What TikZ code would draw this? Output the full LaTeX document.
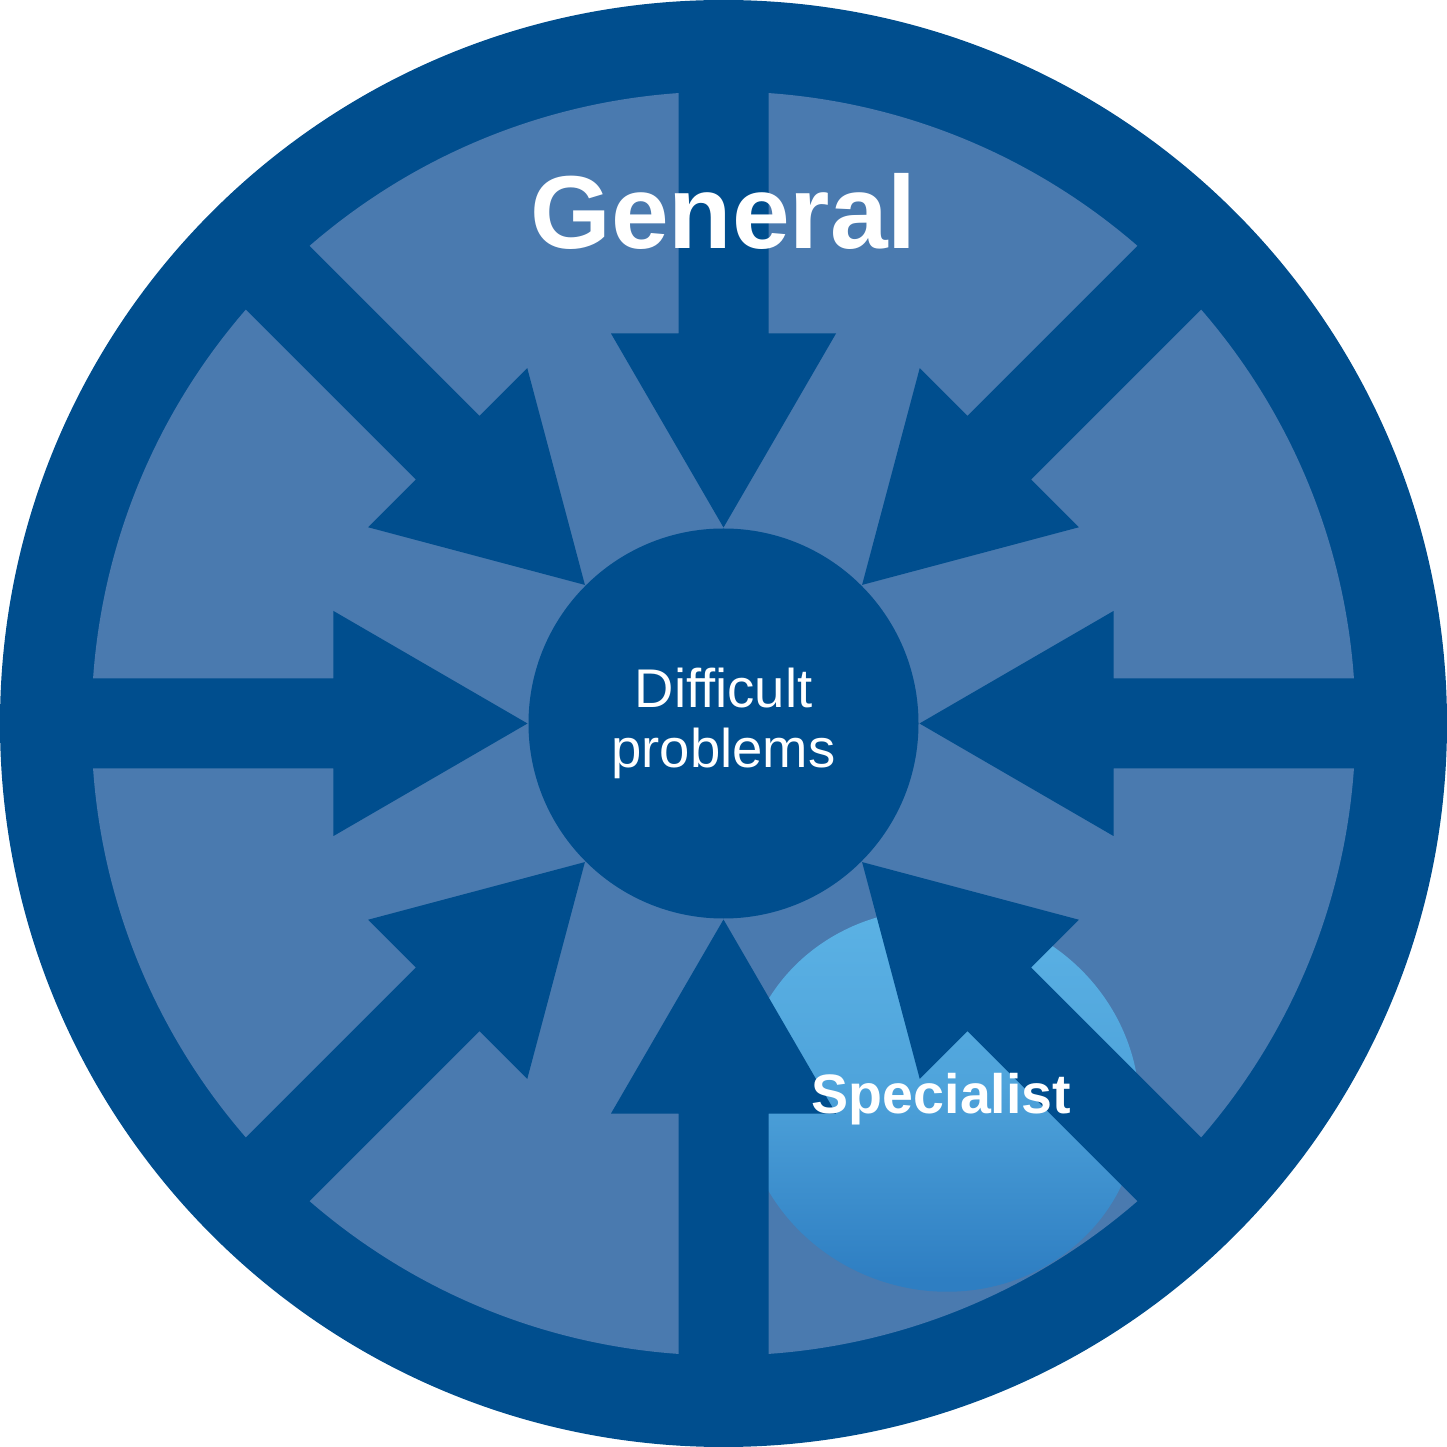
\documentclass[tikz,border=0pt]{standalone}
\usepackage{fontspec}
\setmainfont{Liberation Sans}
\usepackage{xcolor}
\usetikzlibrary{shapes,calc,positioning}

\definecolor{ringblue}{HTML}{004E8E}
\definecolor{fieldblue}{HTML}{4A7AAF}
\definecolor{spectop}{HTML}{5DB4E6}
\definecolor{specbot}{HTML}{2E7EC2}

\begin{document}
\begin{tikzpicture}
	\tikzstyle{every node}=[text=white, inner sep=0pt]
	\tikzstyle{ringfill}=[fill=ringblue]
	\tikzstyle{bigword}=[font=\bfseries\fontsize{29.5}{32}\selectfont]
	\tikzstyle{smallword}=[font=\bfseries\fontsize{15.8}{18}\selectfont]
	\useasboundingbox (-7.235,-7.235) rectangle (7.235,7.235);
	% rings
	\fill [ringfill] (0,0) circle (7.235);
	\fill [fill=fieldblue] (0,0) circle (6.32);
	% specialist area
	\shade [top color=spectop, bottom color=specbot, middle color=spectop!70!specbot] (2.17,-3.77) ellipse [x radius=2.0, y radius=1.9, rotate=-20];
	% eight arrows pointing in
	\foreach \a in {0,45,...,315}
		\fill [ringfill, rotate=\a] (1.96,0) -- (3.90,1.125) -- (3.90,0.45) -- (6.6,0.45) -- (6.6,-0.45) -- (3.90,-0.45) -- (3.90,-1.125) -- cycle;
	\node [circle, ringfill, minimum size=3.9cm, align=center, font=\fontsize{15.5}{16.9}\selectfont] (core) at (0,0) {Difficult\\problems};
	\node [bigword, anchor=base] (general) at (0,4.75) {General};
	\node [smallword, anchor=base] (specialist) at (2.18,-3.90) {Specialist};
\end{tikzpicture}
\end{document}
